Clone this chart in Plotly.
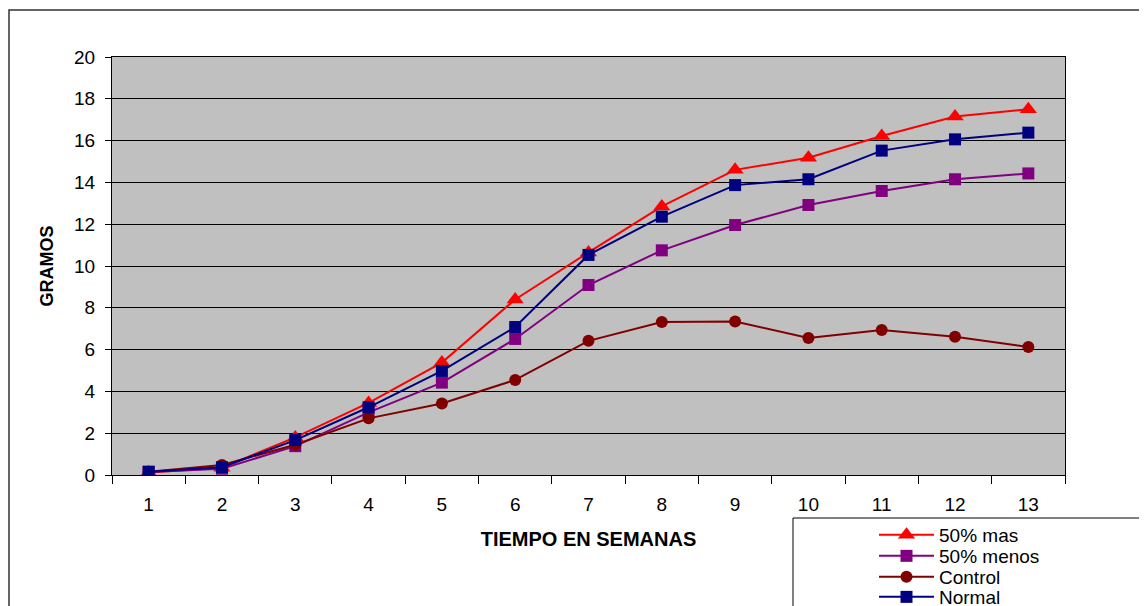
import plotly.graph_objects as go

weeks = [str(i) for i in range(1, 14)]
mas = [0.12, 0.35, 1.8, 3.45, 5.38, 8.4, 10.65, 12.85, 14.6, 15.18, 16.22, 17.15, 17.5]
menos = [0.14, 0.3, 1.38, 3.0, 4.42, 6.51, 9.09, 10.75, 11.96, 12.92, 13.59, 14.15, 14.43]
control = [0.15, 0.48, 1.45, 2.71, 3.42, 4.55, 6.42, 7.32, 7.34, 6.56, 6.94, 6.62, 6.12]
normal = [0.16, 0.37, 1.67, 3.24, 4.98, 7.08, 10.53, 12.36, 13.87, 14.15, 15.52, 16.06, 16.38]

series = [
    ("50% mas", mas, "#FF0000", "triangle-up", 15),
    ("50% menos", menos, "#800080", "square", 12),
    ("Control", control, "#800000", "circle", 12),
    ("Normal", normal, "#000080", "square", 12),
]

# page is offset by the 8px body margin
OFF = 8
W, H = 1147 - OFF, 606 - OFF
L, R, T, B = 112, 1065, 57, 475  # plot area in page pixels

def px(x):
    return (x - L) / (R - L)

def py(y):
    return (B - y) / (B - T)

legend_rows = [535, 556, 577, 597]
legend_ids = ["legend", "legend2", "legend3", "legend4"]

fig = go.Figure()
for (name, vals, col, sym, sz), lid in zip(series, legend_ids):
    fig.add_trace(go.Scatter(
        x=weeks, y=vals, name=name, mode="lines+markers",
        line=dict(color=col, width=2),
        marker=dict(color=col, symbol=sym, size=sz),
        legend=lid,
    ))

font_family = "Liberation Sans, Arial, sans-serif"

layout_legends = {}
for lid, row in zip(legend_ids, legend_rows):
    layout_legends[lid] = dict(
        x=px(874), y=py(row), xanchor="left", yanchor="middle",
        bgcolor="rgba(0,0,0,0)", borderwidth=0,
        font=dict(size=19, family=font_family), itemwidth=55,
    )

fig.update_layout(
    width=W, height=H,
    margin=dict(l=L - OFF, r=W - (R - OFF), t=T - OFF, b=H - (B - OFF), autoexpand=False),
    paper_bgcolor="white",
    plot_bgcolor="#C0C0C0",
    font=dict(family=font_family, size=19, color="black"),
    showlegend=True,
    xaxis=dict(
        type="category", range=[-0.5, 12.5],
        showline=True, mirror=True, linecolor="black", linewidth=1,
        ticks="outside", ticklen=8, tickcolor="black", tickson="boundaries",
        ticklabelstandoff=12,
        showgrid=False, zeroline=False,
        tickfont=dict(size=19),
        title=dict(text="<b>TIEMPO EN SEMANAS</b>", font=dict(size=20), standoff=18),
    ),
    yaxis=dict(
        range=[0, 20], dtick=2, tick0=0,
        showline=True, mirror=True, linecolor="black", linewidth=1,
        ticks="outside", ticklen=6, tickcolor="black",
        ticklabelstandoff=6,
        showgrid=True, gridcolor="black", gridwidth=1, zeroline=False,
        tickfont=dict(size=19),
        title=dict(text="<b>GRAMOS</b>", font=dict(size=18), standoff=15),
    ),
    shapes=[
        dict(type="rect", xref="paper", yref="paper",
             x0=px(9), x1=px(1170), y0=py(630), y1=py(10),
             line=dict(color="#333333", width=1.5), fillcolor="rgba(0,0,0,0)", layer="above"),
        dict(type="rect", xref="paper", yref="paper",
             x0=px(793), x1=px(1170), y0=py(630), y1=py(518),
             line=dict(color="black", width=1), fillcolor="white", layer="above"),
    ],
    **layout_legends,
)

fig.write_html("out.html")
